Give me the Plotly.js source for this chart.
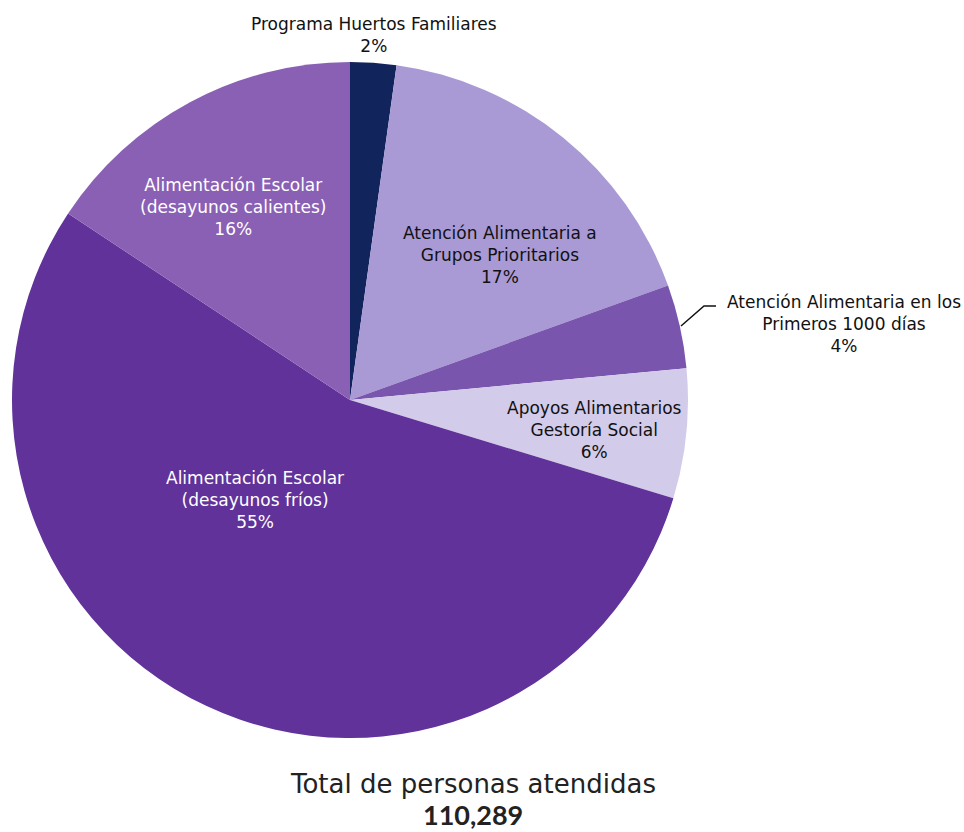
<!DOCTYPE html>
<html>
<head>
<meta charset="utf-8">
<script src="https://cdn.plot.ly/plotly-3.0.1.min.js"></script>
<style>html,body{margin:0;padding:0;background:#fff;}#chart{width:964px;height:832px;}</style>
</head>
<body>
<div id="chart"></div>
<script>
const programas = [
  "Programa Huertos Familiares",
  "Atención Alimentaria a<br>Grupos Prioritarios",
  "Atención Alimentaria en los<br>Primeros 1000 días",
  "Apoyos Alimentarios<br>Gestoría Social",
  "Alimentación Escolar<br>(desayunos fríos)",
  "Alimentación Escolar<br>(desayunos calientes)"
];
const porcentajes = [2.2, 17.3, 4.0, 6.2, 54.6, 15.7];
const colores = ["#12245c", "#a99ad6", "#7a55ad", "#d3cbea", "#60329a", "#8a60b5"];
const colorTexto = ["#111", "#111", "#111", "#111", "#fff", "#fff"];
const totalTitulo = "Total de personas atendidas";
const totalValor = "110,289";

// label anchor points (pixels in the 964x832 frame)
const etiquetaX = [374, 500, 844, 594, 255, 233];
const etiquetaY = [35, 255, 324, 430, 500, 207];

const W = 964, H = 832;
const FONT = "DejaVu Sans, sans-serif";
const suma = porcentajes.reduce((a, b) => a + b, 0);

const data = [{
  type: "pie",
  labels: programas,
  values: porcentajes,
  sort: false,
  direction: "clockwise",
  rotation: 0,
  marker: {colors: colores, line: {width: 0}},
  textinfo: "none",
  hoverinfo: "label+percent",
  showlegend: false,
  domain: {x: [12/W, 688/W], y: [1 - 738/H, 1 - 62/H]}
}];

const anotaciones = programas.map((p, i) => ({
  text: p + "<br>" + Math.round(porcentajes[i] / suma * 100) + "%",
  x: etiquetaX[i] / W, y: 1 - etiquetaY[i] / H,
  xref: "paper", yref: "paper", xanchor: "center", yanchor: "middle",
  showarrow: false, align: "center",
  font: {family: FONT, size: 17, color: colorTexto[i]}
}));
anotaciones.push(
  {text: totalTitulo, x: 473/W, y: 1 - 784/H, xref: "paper", yref: "paper", showarrow: false,
   xanchor: "center", yanchor: "middle", font: {family: FONT, size: 26, color: "#222"}},
  {text: "<b>" + totalValor + "</b>", x: 473/W, y: 1 - 814/H, xref: "paper", yref: "paper", showarrow: false,
   xanchor: "center", yanchor: "middle", font: {family: "Lato, sans-serif", size: 27, color: "#222"}}
);

const layout = {
  width: W, height: H,
  margin: {l: 0, r: 0, t: 0, b: 0},
  paper_bgcolor: "#fff",
  font: {family: FONT, color: "#111"},
  annotations: anotaciones,
  shapes: [{
    type: "path", xref: "paper", yref: "paper",
    path: `M ${681/W} ${1 - 326/H} L ${704/W} ${1 - 306/H} L ${716/W} ${1 - 306/H}`,
    line: {color: "#111", width: 1.5}
  }]
};

Plotly.newPlot("chart", data, layout, {displayModeBar: false});
</script>
</body>
</html>
